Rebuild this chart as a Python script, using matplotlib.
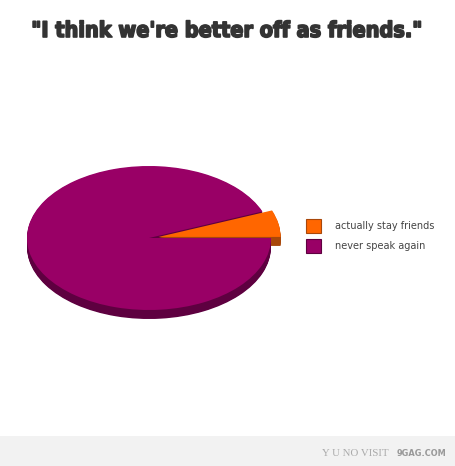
import numpy as np
import matplotlib
matplotlib.use("Agg")
import matplotlib.pyplot as plt
import matplotlib.patches as mpatches
import matplotlib.patheffects as pe

W, H = 455, 466

# chart data
labels = ["actually stay friends", "never speak again"]
values = [6, 94]
top_colors = ["#ff6600", "#990066"]
side_colors = ["#a8470a", "#5e0040"]
explode = [0.08, 0.0]

title = "\"I think we're better off as friends.\""

fig = plt.figure(figsize=(W / 100, H / 100), dpi=100)
fig.patch.set_facecolor("white")

# pie axes over the whole figure; 1 unit = 122 px across, 72 px down
cx, cy = 149, 238
rx, ry = 122, 72
ax = fig.add_axes([0, 0, 1, 1])
depth = 9 / ry

# side of the disc: stack darker copies below the top face
for off in np.linspace(-depth, -0.01, 12):
    ax.pie(values, colors=side_colors, startangle=0, explode=explode,
           center=(0, off), radius=1, wedgeprops=dict(linewidth=0))
wedges, _ = ax.pie(values, colors=top_colors, startangle=0, explode=explode,
                   center=(0, 0), radius=1, wedgeprops=dict(linewidth=0))

ax.set_aspect("auto")
ax.set_xlim(-cx / rx, (W - cx) / rx)
ax.set_ylim(-(H - cy) / ry, cy / ry)
ax.axis("off")

# legend
handles = [mpatches.Patch(facecolor=c, edgecolor=s, linewidth=0.8)
           for c, s in zip(top_colors, side_colors)]
fig.legend(handles, labels, loc="upper left",
           bbox_to_anchor=(306 / W, 1 - 219 / H), frameon=False,
           fontsize=7, labelcolor="#444444", handlelength=1.55,
           handleheight=1.86, handletextpad=1.4, labelspacing=0.6,
           borderpad=0, borderaxespad=0)

# title
fig.text(227 / W, 1 - 31 / H, title, ha="center", va="center",
         fontsize=15.5, fontweight="bold", color="#333333", stretch="condensed",
         family=["DejaVu Sans"],
         path_effects=[pe.withStroke(linewidth=1.2, foreground="#333333")])

# footer strip
fig.add_artist(mpatches.Rectangle((0, 0), 1, 30 / H, transform=fig.transFigure,
                                  facecolor="#f2f2f2", edgecolor="none"))
fig.text(389 / W, 1 - 453 / H, "Y U NO VISIT", ha="right", va="center",
         fontsize=7.8, color="#aaaaaa", family=["Liberation Serif", "DejaVu Serif"])
fig.text(446 / W, 1 - 453 / H, "9GAG.COM", ha="right", va="center",
         fontsize=6.6, fontweight="bold", color="#999999", stretch="condensed",
         family=["DejaVu Sans"])

fig.savefig("out.png", dpi=100)
